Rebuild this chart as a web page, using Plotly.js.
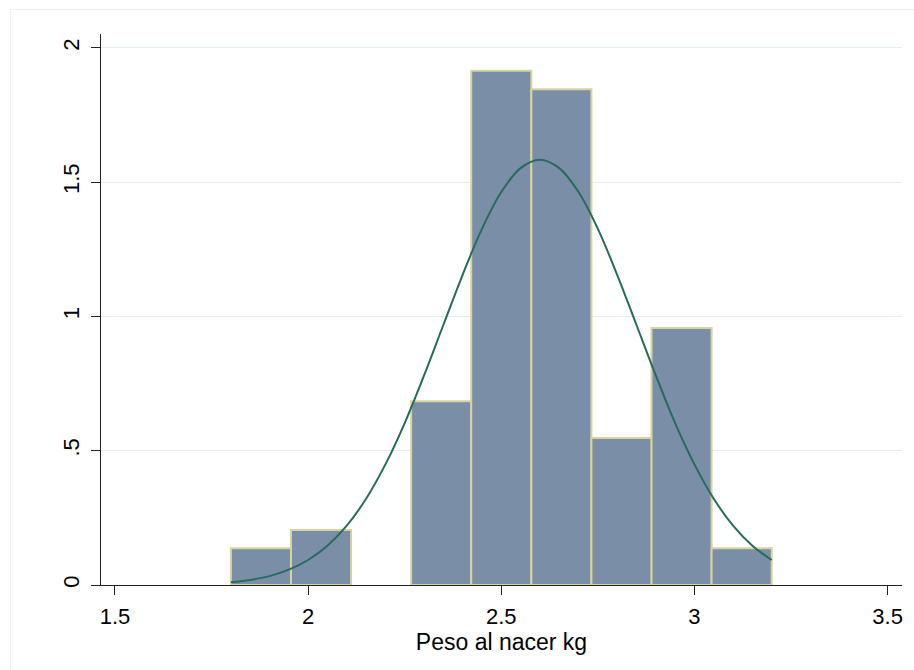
<!DOCTYPE html>
<html>
<head>
<meta charset="utf-8">
<script src="https://cdn.plot.ly/plotly-3.0.1.min.js"></script>
<style>
  html, body { margin: 0; padding: 0; background: #ffffff; }
  #frame { position: absolute; left: 10px; top: 9px; width: 920px; height: 680px;
           border: 1px solid #f1f1f1; box-sizing: border-box; }
  #chart { position: absolute; left: 0; top: 0; width: 914px; height: 670px; }
</style>
</head>
<body>
<div id="frame"></div>
<div id="chart"></div>
<script>
// Histogram of birth weight (kg), density scale, 9 bins from 1.8 to 3.2
const binEdges = [1.8, 1.9556, 2.1111, 2.2667, 2.4222, 2.5778, 2.7333, 2.8889, 3.0444, 3.2];
const density  = [0.137, 0.205, 0, 0.684, 1.915, 1.846, 0.547, 0.957, 0.137];

// Normal density overlay
const curveX = [1.80, 1.85, 1.90, 1.95, 2.00, 2.05, 2.10, 2.15, 2.20, 2.25, 2.30, 2.35, 2.40, 2.45, 2.50,
                2.55, 2.60, 2.65, 2.70, 2.75, 2.80, 2.85, 2.90, 2.95, 3.00, 3.05, 3.10, 3.15, 3.20];
const curveY = [0.010, 0.019, 0.033, 0.057, 0.093, 0.146, 0.221, 0.321, 0.449, 0.603, 0.780, 0.968, 1.155, 1.326, 1.463,
                1.552, 1.583, 1.552, 1.463, 1.326, 1.155, 0.968, 0.780, 0.603, 0.449, 0.321, 0.221, 0.146, 0.093];

const xTicks = [1.5, 2, 2.5, 3, 3.5];
const xTickText = ['1.5', '2', '2.5', '3', '3.5'];
const yTicks = [0, 0.5, 1, 1.5, 2];
const yTickText = ['0', '.5', '1', '1.5', '2'];
const xTitle = 'Peso al nacer kg';

const centers = density.map((_, i) => (binEdges[i] + binEdges[i + 1]) / 2);
const widths  = density.map((_, i) => binEdges[i + 1] - binEdges[i]);
// empty bins are left undrawn (no outline along the axis)
const barHeights = density.map(d => (d > 0 ? d : null));

const bars = {
  type: 'bar',
  x: centers,
  y: barHeights,
  width: widths,
  marker: { color: '#7a8fa7', line: { color: '#d8d2a0', width: 2 } },
  hoverinfo: 'x+y',
  showlegend: false
};

const curve = {
  type: 'scatter',
  mode: 'lines',
  x: curveX,
  y: curveY,
  line: { color: '#276b5c', width: 2, shape: 'spline' },
  hoverinfo: 'x+y',
  showlegend: false
};

const font = { family: '"Liberation Sans", Arial, sans-serif', color: '#000000' };

const layout = {
  width: 914,
  height: 670,
  margin: { l: 101, r: 12, t: 34, b: 85 },
  paper_bgcolor: 'rgba(0,0,0,0)',
  plot_bgcolor: '#ffffff',
  font: Object.assign({ size: 22 }, font),
  bargap: 0,
  xaxis: {
    range: [1.4638, 3.5373],
    tickmode: 'array',
    tickvals: xTicks,
    ticktext: xTickText,
    ticks: 'outside',
    ticklen: 9,
    tickwidth: 1,
    tickcolor: '#222222',
    ticklabelstandoff: 3,
    showline: true,
    linecolor: '#222222',
    linewidth: 1,
    showgrid: false,
    zeroline: false,
    tickfont: Object.assign({ size: 22 }, font),
    title: { text: xTitle, font: Object.assign({ size: 23 }, font), standoff: 3 }
  },
  yaxis: {
    range: [0, 2.0514],
    tickmode: 'array',
    tickvals: yTicks,
    ticktext: yTickText,
    tickangle: -90,
    ticks: 'outside',
    ticklen: 9,
    tickwidth: 1,
    tickcolor: '#222222',
    ticklabelstandoff: 3,
    showline: true,
    linecolor: '#222222',
    linewidth: 1,
    showgrid: true,
    gridcolor: '#e4eef1',
    gridwidth: 1,
    zeroline: false,
    tickfont: Object.assign({ size: 22 }, font)
  }
};

Plotly.newPlot('chart', [bars, curve], layout, { displayModeBar: false, staticPlot: true });
</script>
</body>
</html>
